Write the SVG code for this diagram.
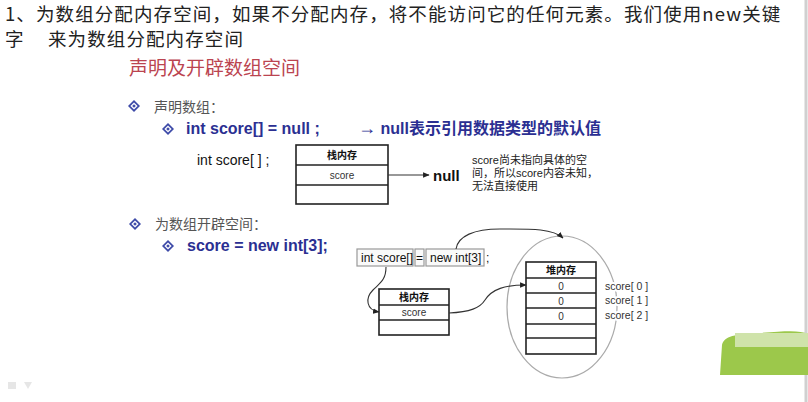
<svg xmlns="http://www.w3.org/2000/svg" width="808" height="402" viewBox="0 0 808 402">
<style>
.cn{font-family:"Noto Sans CJK SC","Liberation Sans",sans-serif;}
.top{font-size:18.5px;fill:#222;letter-spacing:1.1px;}
.title{font-size:19px;fill:#bb4450;}
.lvl1{font-size:14px;fill:#555;}
.code{font-family:"Liberation Sans","Noto Sans CJK SC",sans-serif;font-weight:bold;font-size:16px;fill:#2b2f92;}
.plain{font-family:"Liberation Sans","Noto Sans CJK SC",sans-serif;fill:#111;}
.box{fill:#fff;stroke:#222;stroke-width:1.6;}
.row{stroke:#222;stroke-width:1.3;fill:none;}
.hdr{font-family:"Noto Sans CJK SC",sans-serif;font-weight:bold;font-size:10px;fill:#111;text-anchor:middle;}
.cell{font-family:"Liberation Sans",sans-serif;font-size:10px;fill:#333;text-anchor:middle;}
.note{font-family:"Liberation Sans","Noto Sans CJK SC",sans-serif;font-size:11px;fill:#222;}
.wire{fill:none;stroke:#333;stroke-width:1.1;}
.cbox{fill:#fafafa;stroke:#999;stroke-width:1.2;}
.ctext{font-family:"Liberation Sans",sans-serif;font-size:12px;fill:#111;}
.lbl{font-family:"Liberation Sans",sans-serif;font-size:10.5px;fill:#333;paint-order:stroke;stroke:#fff;stroke-width:4px;}
</style>
<defs>
<marker id="ah" viewBox="0 0 10 10" refX="9" refY="5" markerWidth="6" markerHeight="6" orient="auto">
<path d="M0,1 L10,5 L0,9 z" fill="#222"/>
</marker>
<g id="bullet">
<path d="M0,-6 L6,0 L0,6 L-6,0 z" fill="#3d4aa8"/>
<path d="M0,-3.6 L3.6,0 L0,3.6 L-3.6,0 z" fill="#fff"/>
<path d="M0,-1.8 L1.8,0 L0,1.8 L-1.8,0 z" fill="#3d4aa8"/>
</g>
</defs>
<rect width="808" height="402" fill="#fff"/>
<line x1="806" y1="0" x2="806" y2="402" stroke="#d0d0d0" stroke-width="3"/>

<g id="heading">
<text class="cn top" x="5" y="21">1、为数组分配内存空间，如果不分配内存，将不能访问它的任何元素。我们使用new关键</text>
<text class="cn top" x="5" y="46">字<tspan x="48">来为数组分配内存空间</tspan></text>
</g>

<g id="slide-title">
<text class="cn title" x="129" y="75">声明及开辟数组空间</text>
</g>

<g id="declare">
<use href="#bullet" x="134" y="106"/>
<text class="cn lvl1" x="154" y="112">声明数组：</text>
<use href="#bullet" x="168" y="129"/>
<text class="code" x="186" y="134">int score[] = null ;</text>
<text class="code" x="358" y="134"><tspan font-size="18">→</tspan> null表示引用数据类型的默认值</text>
<text class="plain" x="197" y="165" font-size="14">int score[ ] ;</text>
</g>

<g id="stack1">
<rect class="box" x="296" y="145" width="92" height="59"/>
<line class="row" x1="296" y1="165" x2="388" y2="165"/>
<line class="row" x1="296" y1="185" x2="388" y2="185"/>
<text class="hdr" x="342" y="159">栈内存</text>
<text class="cell" x="342" y="179">score</text>
</g>

<g id="null-node">
<text class="plain" x="433" y="181" font-size="15" font-weight="bold">null</text>
</g>

<g id="note">
<text class="note" x="472" y="164">score尚未指向具体的空</text>
<text class="note" x="472" y="177">间，所以score内容未知，</text>
<text class="note" x="472" y="190">无法直接使用</text>
</g>

<g id="allocate">
<use href="#bullet" x="135" y="224"/>
<text class="cn lvl1" x="155" y="229">为数组开辟空间：</text>
<use href="#bullet" x="168" y="246"/>
<text class="code" x="187" y="251">score = new int[3];</text>
</g>

<g id="code-line">
<rect class="cbox" x="357" y="249" width="56" height="17"/>
<text class="ctext" x="361" y="262">int score[]</text>
<rect class="cbox" x="415" y="249" width="9" height="17"/>
<text class="ctext" x="416" y="262">=</text>
<rect class="cbox" x="426" y="249" width="58" height="17"/>
<text class="ctext" x="430" y="262">new int[3]</text>
<text class="ctext" x="486" y="262">;</text>
</g>

<g id="heap-area">
<ellipse cx="562" cy="307" rx="55" ry="71" fill="none" stroke="#aaa" stroke-width="1.2"/>
</g>

<g id="stack2">
<rect class="box" x="379" y="289" width="70" height="46"/>
<line class="row" x1="379" y1="305" x2="449" y2="305"/>
<line class="row" x1="379" y1="320" x2="449" y2="320"/>
<text class="hdr" x="414" y="301">栈内存</text>
<text class="cell" x="414" y="316">score</text>
</g>

<g id="heap">
<rect class="box" x="526" y="262" width="70" height="92"/>
<line class="row" x1="526" y1="278" x2="596" y2="278"/>
<line class="row" x1="526" y1="293" x2="596" y2="293"/>
<line class="row" x1="526" y1="308" x2="596" y2="308"/>
<line class="row" x1="526" y1="324" x2="596" y2="324"/>
<line class="row" x1="526" y1="338" x2="596" y2="338"/>
<text class="hdr" x="561" y="274">堆内存</text>
<text class="cell" x="561" y="290">0</text>
<text class="cell" x="561" y="305">0</text>
<text class="cell" x="561" y="320">0</text>
<text class="lbl" x="605" y="290">score[ 0 ]</text>
<text class="lbl" x="605" y="304">score[ 1 ]</text>
<text class="lbl" x="605" y="319">score[ 2 ]</text>
</g>

<g id="connectors">
<line class="wire" x1="388" y1="175" x2="429" y2="175" marker-end="url(#ah)"/>
<path class="wire" d="M456,249 C458,236 474,229 500,229 C528,229 552,228 563,238" marker-end="url(#ah)"/>
<path class="wire" d="M386,267 C386,280 380,283 373,290 C365,298 366,310 379,312" marker-end="url(#ah)"/>
<path class="wire" d="M449,313 C470,312 480,308 485,300 C492,289 505,285 526,285" marker-end="url(#ah)"/>
</g>

<g id="decor">
<path d="M722,345 C724,336 735,334 760,333 C785,331 800,330 808,334 L808,375 L720,375 z" fill="#9cc84b"/>
<rect x="735" y="333" width="73" height="14" fill="#cfe3aa"/>
<rect x="8" y="382" width="8" height="7" fill="#e6e6e6"/>
<path d="M24,382 L32,382 L28,389 z" fill="#e6e6e6"/>
</g>
</svg>
